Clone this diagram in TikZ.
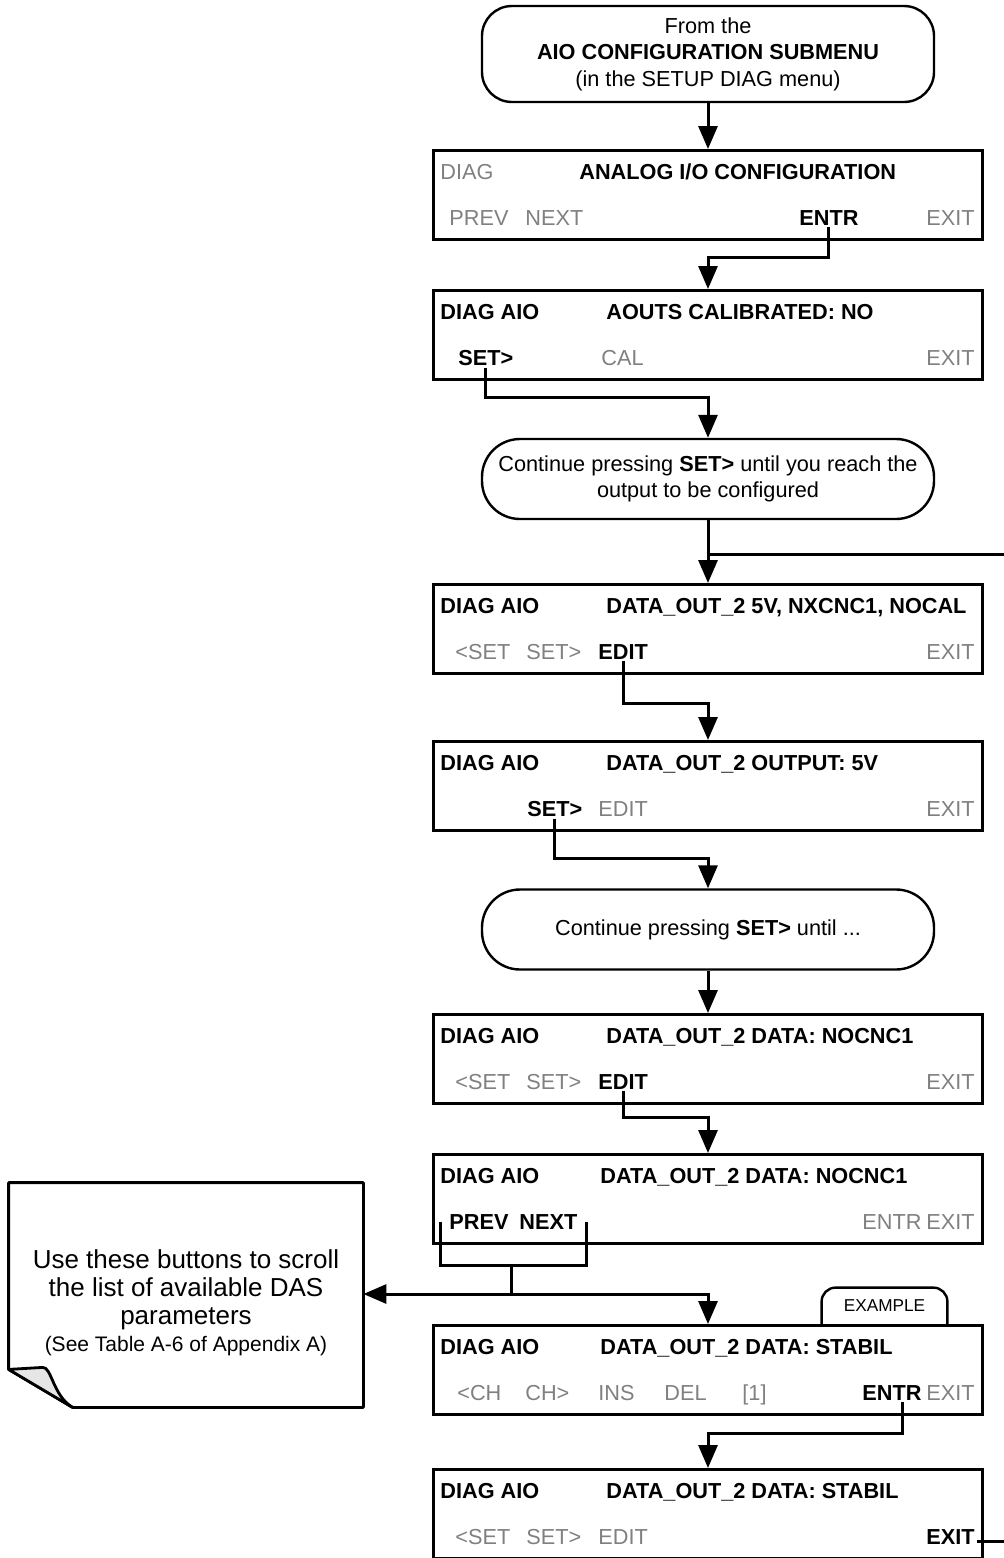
\documentclass[tikz,border=0pt]{standalone}
\usepackage{fontspec}
\setmainfont{Liberation Sans}
\usetikzlibrary{arrows.meta}
\definecolor{keygray}{RGB}{128,128,128}
\definecolor{foldgray}{RGB}{230,230,230}
\newcommand{\dispfont}{\fontsize{10.85pt}{13.3pt}\selectfont}

\begin{document}
\begin{tikzpicture}[
        x=0.5pt,
        y=0.5pt,
        menubox/.style={rectangle, draw, line width=1.4pt, minimum width=274.5pt, minimum height=44.5pt, inner sep=0pt, anchor=north},
        pill/.style={rectangle, draw, line width=1.2pt, rounded corners=19pt, minimum width=226pt, minimum height=40pt, align=center, font=\dispfont},
        lbl/.style={anchor=base west, inner sep=1pt, font=\dispfont},
        keyon/.style={lbl, font=\dispfont\bfseries},
        keyoff/.style={lbl, text=keygray},
        notetxt/.style={minimum width=177pt, minimum height=112pt, inner sep=0pt, align=center, font=\fontsize{13pt}{13.85pt}\selectfont},
        tabtxt/.style={minimum width=62.5pt, minimum height=18pt, inner sep=0pt, font=\fontsize{8.6pt}{10pt}\selectfont},
        tabline/.style={line width=1.2pt, rounded corners=7pt},
        sheet/.style={draw, line width=1.4pt, line join=round},
        conn/.style={draw=black, line width=1.5pt},
        flow/.style={conn, -{Triangle[length=11.5pt,width=9.5pt]}}
    ]
    \useasboundingbox (0,0) rectangle (1004,-1558);
    \node[pill, rounded corners=15pt, minimum height=48pt] (start) at (708,-54) {From the\\\textbf{AIO CONFIGURATION SUBMENU}\\(in the SETUP DIAG menu)};
    \foreach \n/\t in {1/149,2/289,3/583,4/740,5/1013,6/1153,7/1324,8/1468} { \node[menubox] (b\n) at (708,-\t) {}; }
    \foreach \n/\t in {2/289,3/583,4/740,5/1013,6/1153,7/1324,8/1468} { \node[keyon] (diag\n) at (438,-\t-30) {DIAG AIO}; }
    \foreach \n/\t in {1/149,2/289,3/583,4/740,5/1013,6/1153,7/1324} { \node[keyoff, anchor=base east] (exit\n) at (977,-\t-76) {EXIT}; }
    % analog i/o configuration
    \node[keyoff] (diag1) at (438,-179) {DIAG};
    \node[keyon] (title1) at (577,-179) {ANALOG I/O CONFIGURATION};
    \node[keyoff] (prev1) at (447,-225) {PREV};
    \node[keyoff] (next1) at (523,-225) {NEXT};
    \node[keyon] (entr1) at (797,-225) {ENTR};
    % aouts calibrated
    \node[keyon] (title2) at (604,-319) {AOUTS CALIBRATED: NO};
    \node[keyon] (set2) at (456,-365) {SET>};
    \node[keyoff] (cal2) at (599,-365) {CAL};
    \node[pill] (cont1) at (708,-479) {Continue pressing \textbf{SET>} until you reach the\\output to be configured};
    % data_out_2 summary
    \node[keyon] (title3) at (604,-613) {DATA\_OUT\_2 5V, NXCNC1, NOCAL};
    \node[keyoff] (prvset3) at (453,-659) {<SET};
    \node[keyoff] (set3) at (524,-659) {SET>};
    \node[keyon] (edit3) at (596,-659) {EDIT};
    % output
    \node[keyon] (title4) at (604,-770) {DATA\_OUT\_2 OUTPUT: 5V};
    \node[keyon] (set4) at (525,-816) {SET>};
    \node[keyoff] (edit4) at (596,-816) {EDIT};
    \node[pill] (cont2) at (708,-929.5) {Continue pressing \textbf{SET>} until ...};
    % data
    \node[keyon] (title5) at (604,-1043) {DATA\_OUT\_2 DATA: NOCNC1};
    \node[keyoff] (prvset5) at (453,-1089) {<SET};
    \node[keyoff] (set5) at (524,-1089) {SET>};
    \node[keyon] (edit5) at (596,-1089) {EDIT};
    \node[keyon] (title6) at (598,-1183) {DATA\_OUT\_2 DATA: NOCNC1};
    \node[keyon] (prev6) at (447,-1229) {PREV};
    \node[keyon] (next6) at (517,-1229) {NEXT};
    \node[keyoff] (entr6) at (860,-1229) {ENTR};
    % stabil
    \node[keyon] (title7) at (598,-1354) {DATA\_OUT\_2 DATA: STABIL};
    \node[keyoff] (prvch7) at (455,-1400) {<CH};
    \node[keyoff] (ch7) at (523,-1400) {CH>};
    \node[keyoff] (ins7) at (596,-1400) {INS};
    \node[keyoff] (del7) at (662,-1400) {DEL};
    \node[keyoff] (pos7) at (740,-1400) {[1]};
    \node[keyon] (entr7) at (860,-1400) {ENTR};
    \node[tabtxt] (tab) at (884.5,-1306) {EXAMPLE};
    \draw[tabline] (tab.south west) -- (tab.north west) -- (tab.north east) -- (tab.south east);
    \node[keyon] (title8) at (604,-1498) {DATA\_OUT\_2 DATA: STABIL};
    \node[keyoff] (prvset8) at (453,-1544) {<SET};
    \node[keyoff] (set8) at (524,-1544) {SET>};
    \node[keyoff] (edit8) at (596,-1544) {EDIT};
    \node[keyon, anchor=base east] (exit8) at (977,-1544) {EXIT};
    % note with folded corner
    \node[notetxt] (note) at (186,-1295) {\rule{0pt}{17.6pt}Use these buttons to scroll\\the list of available DAS\\parameters\\{\fontsize{10.5pt}{13.85pt}\selectfont (See Table A-6 of Appendix A)}};
    \draw[sheet] (note.north west) -- (note.north east) -- (note.south east) -- ([xshift=32pt]note.south west) -- ([yshift=19pt]note.south west) -- cycle;
    \draw[sheet, fill=foldgray] ([yshift=19pt]note.south west) -- ([xshift=17pt,yshift=20pt]note.south west) .. controls ([xshift=21.5pt,yshift=20.5pt]note.south west) and ([xshift=22pt,yshift=6pt]note.south west) .. ([xshift=32pt]note.south west) -- cycle;
    % connectors
    \draw[flow] (start.south) -- (b1.north);
    \draw[flow] (entr1.south) -- ++(0,-30) -| (b2.north);
    \draw[flow] (set2.south) -- ++(0,-30) -| (cont1.north);
    \draw[flow] (cont1.south) -- (b3.north);
    \coordinate (offR1) at (1004,-554);
    \draw[conn] (cont1.south |- offR1) -- (offR1);
    \draw[flow] (edit3.south) -- ++(0,-42) -| (b4.north);
    \draw[flow] (set4.south) -- ++(0,-40) -| (cont2.north);
    \draw[flow] (cont2.south) -- (b5.north);
    \draw[flow] (edit5.south) -- ++(0,-26) -| (b6.north);
    \coordinate (fork) at (511,-1265);
    \coordinate (split) at (511,-1294);
    \draw[conn] ([xshift=-3.5pt]prev6.west) |- (fork) -| ([xshift=3.5pt]next6.east);
    \draw[conn] (fork) -- (split);
    \draw[flow] (split) -- (note.east |- split);
    \draw[flow] (split) -| (b7.north);
    \draw[flow] ([xshift=5.5pt]entr7.south) -- ++(0,-31) -| (b8.north);
    \coordinate (offR2) at (1004,-1541);
    \draw[conn] (exit8.east |- offR2) -- (offR2);
\end{tikzpicture}
\end{document}
